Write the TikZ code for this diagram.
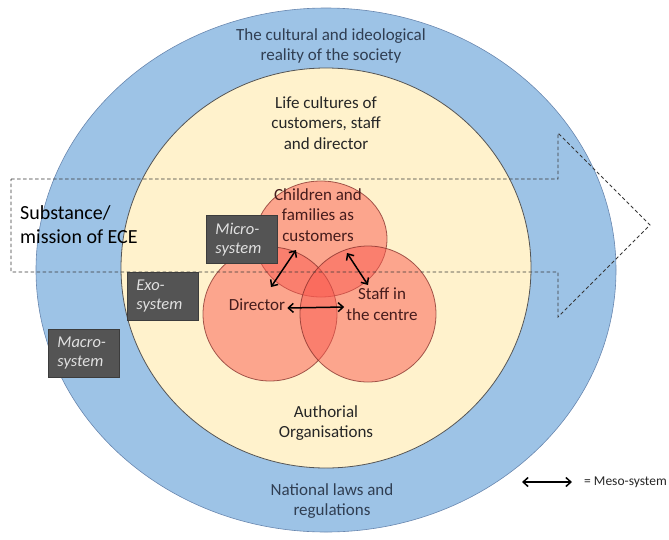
\documentclass[tikz,border=0pt]{standalone}
\usepackage{fontspec}
\setmainfont{Carlito}
\usepackage{xcolor}
\usetikzlibrary{arrows.meta}
\definecolor{macroblue}{RGB}{157,195,230}
\definecolor{macroedge}{RGB}{105,135,175}
\definecolor{exoyellow}{RGB}{255,242,204}
\definecolor{exoedge}{RGB}{85,85,85}
\definecolor{microred}{RGB}{250,90,80}
\definecolor{microedge}{RGB}{130,45,40}
\definecolor{boxgray}{RGB}{84,84,84}
\definecolor{boxedge}{RGB}{60,60,60}
\definecolor{boxtext}{RGB}{225,225,225}
\definecolor{bluetext}{RGB}{48,62,82}
\definecolor{darktext}{RGB}{38,38,38}
\definecolor{redtext}{RGB}{70,28,28}
\definecolor{dashgray}{RGB}{55,55,55}

\begin{document}
\begin{tikzpicture}[x=1pt,y=-1pt,
	lbl/.style={align=center,inner sep=2pt,font=\fontsize{17}{20.5}\selectfont},
	sysbox/.style={anchor=north west,fill=boxgray,draw=boxedge,line width=0.8pt,
		text=boxtext,align=left,text width=53pt,inner xsep=9pt,inner ysep=0pt,
		minimum height=48pt,font=\fontsize{16.5}{19}\selectfont\itshape},
	meso/.style={{Straight Barb[length=5pt,width=9pt]}-{Straight Barb[length=5pt,width=9pt]},line width=1.5pt,black},
	circ/.style={fill=microred,fill opacity=0.5,draw=microedge,draw opacity=0.75,line width=0.8pt}]
	\useasboundingbox (0,0) rectangle (669,539);
	% systems
	\draw[fill=macroblue,draw=macroedge,line width=0.6pt] (326,270) ellipse (290 and 262);
	\draw[fill=exoyellow,draw=exoedge,line width=0.8pt] (326,268) ellipse (205 and 200);
	\draw[circ] (321,239) ellipse (66 and 58);
	\draw[circ] (270,314) circle (67);
	\draw[circ] (368,314) circle (68);
	% substance arrow
	\draw[draw=dashgray,line width=0.8pt,dash pattern=on 3.5pt off 2.5pt]
		(11,179) -- (558,179) -- (558,133) -- (650,225) -- (558,317) -- (558,272) -- (11,272) -- cycle;
	\node[anchor=west,align=left,inner sep=0pt,font=\fontsize{20}{24}\selectfont] (subst) at (20,225) {Substance/\\mission of ECE};
	% labels
	\node[lbl,text=bluetext] (cult) at (331,46) {The cultural and ideological\\reality of the society};
	\node[lbl,text=darktext] (life) at (326,123) {Life cultures of\\customers, staff\\and director};
	\node[lbl,text=redtext] (chl) at (318,215) {Children and\\families as\\customers};
	\node[lbl,text=redtext] (dir) at (257,305) {Director};
	\node[lbl,text=redtext] (stf) at (382,304) {Staff in\\the centre};
	\node[lbl,text=darktext] (auth) at (326,423) {Authorial\\Organisations};
	\node[lbl,text=bluetext] (nat) at (332,501) {National laws and\\regulations};
	% meso arrows
	\coordinate (chlA) at (296,250);
	\coordinate (dirA) at (271,287);
	\coordinate (chlB) at (347,253);
	\coordinate (stfB) at (368,285);
	\draw[meso] (chlA) -- (dirA);
	\draw[meso] (chlB) -- (stfB);
	\draw[meso] ([yshift=-3pt]dir.east) -- ([yshift=-3pt]stf.west);
	% system boxes
	\node[sysbox] (micro) at (206,215) {Micro-\\system};
	\node[sysbox] (exo) at (127,272) {Exo-\\system};
	\node[sysbox] (macro) at (48,329) {Macro-\\system};
	% legend
	\coordinate (legA) at (522,482);
	\coordinate (legB) at (572,482);
	\draw[meso] (legA) -- (legB);
	\node[anchor=west,inner sep=0pt,text=darktext,font=\fontsize{13.5}{15}\selectfont] (leg) at (584,482) {= Meso-system};
\end{tikzpicture}
\end{document}
